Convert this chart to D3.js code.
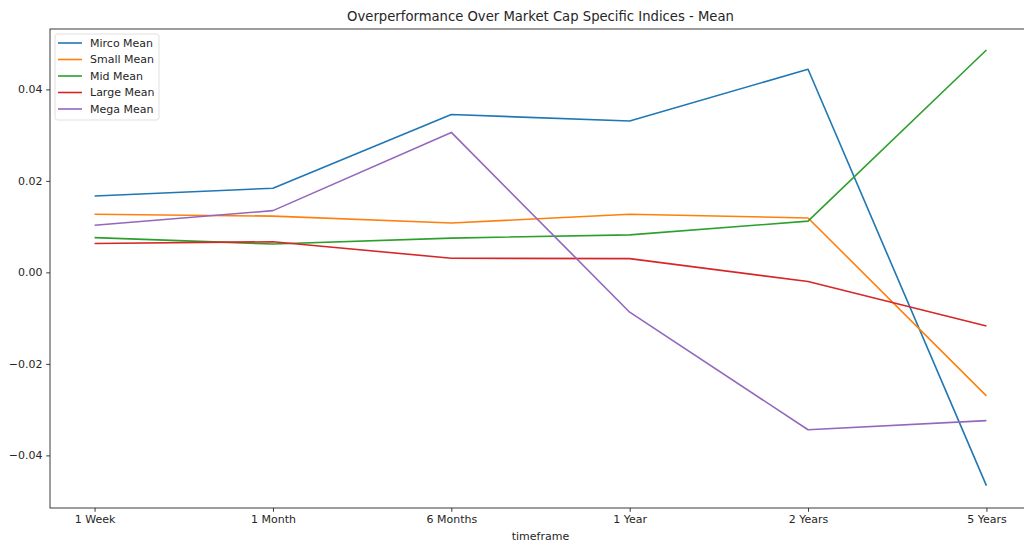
<!DOCTYPE html>
<html>
<head>
<meta charset="utf-8">
<script src="https://cdn.jsdelivr.net/npm/d3@7"></script>
<style>
  body { margin: 0; background: #fff; }
  svg { display: block; font-family: "DejaVu Sans", sans-serif; }
  .tick text { font-size: 11px; fill: #262626; font-family: "DejaVu Sans", sans-serif; }
  .tick line { stroke: #262626; stroke-width: 0.9; }
</style>
</head>
<body>
<div id="chart-area"><svg></svg></div>
<script>
const timeframes = ["1 Week", "1 Month", "6 Months", "1 Year", "2 Years", "5 Years"];
const seriesNames = ["Mirco Mean", "Small Mean", "Mid Mean", "Large Mean", "Mega Mean"];
const colors = ["#1f77b4", "#ff7f0e", "#2ca02c", "#d62728", "#9467bd"];

const mircoMean = [0.0167, 0.0184, 0.0345, 0.0331, 0.0444, -0.0466];
const smallMean = [0.0127, 0.0123, 0.0108, 0.0127, 0.0119, -0.0270];
const midMean = [0.0076, 0.0062, 0.0075, 0.0082, 0.0112, 0.0486];
const largeMean = [0.0063, 0.0067, 0.0031, 0.0030, -0.0020, -0.0117];
const megaMean = [0.0103, 0.0135, 0.0306, -0.0087, -0.0344, -0.0324];

const yTicks = [-0.04, -0.02, 0.0, 0.02, 0.04];

const chartSize = { width: 1024, height: 547 };
const frame = { left: 50, right: 1031, top: 29, bottom: 508 };

const svg = d3.select("#chart-area svg")
  .attr("width", chartSize.width)
  .attr("height", chartSize.height);

const x = d3.scalePoint()
  .domain(timeframes)
  .range([frame.left, frame.right])
  .padding(0.25);

const y = d3.scaleLinear()
  .domain([-0.0515, 0.0532])
  .range([frame.bottom, frame.top]);

// axes
const xAxis = d3.axisBottom(x).tickSize(3.8).tickPadding(3.8);
svg.append("g")
  .attr("transform", `translate(0, ${frame.bottom})`)
  .call(xAxis)
  .attr("font-family", null)
  .attr("font-size", null)
  .call(g => g.select(".domain").remove());

const yAxis = d3.axisLeft(y)
  .tickValues(yTicks)
  .tickFormat(d3.format(".2f"))
  .tickSize(3.8)
  .tickPadding(3.8);
svg.append("g")
  .attr("transform", `translate(${frame.left}, 0)`)
  .call(yAxis)
  .attr("font-family", null)
  .attr("font-size", null)
  .call(g => g.select(".domain").remove());

// lines
const series = [mircoMean, smallMean, midMean, largeMean, megaMean];
const line = d3.line()
  .x((d, i) => x(timeframes[i]))
  .y(d => y(d));

svg.append("g")
  .selectAll("path")
  .data(series)
  .join("path")
  .attr("d", d => line(d))
  .attr("fill", "none")
  .attr("stroke", (d, i) => colors[i])
  .attr("stroke-width", 1.6)
  .attr("stroke-linejoin", "round");

// frame
svg.append("rect")
  .attr("x", frame.left)
  .attr("y", frame.top)
  .attr("width", frame.right - frame.left)
  .attr("height", frame.bottom - frame.top)
  .attr("fill", "none")
  .attr("stroke", "#262626")
  .attr("stroke-width", 0.9);

// title and label
svg.append("text")
  .attr("x", (frame.left + frame.right) / 2)
  .attr("y", 21)
  .attr("text-anchor", "middle")
  .attr("font-size", 13.2)
  .attr("fill", "#262626")
  .text("Overperformance Over Market Cap Specific Indices - Mean");

svg.append("text")
  .attr("x", (frame.left + frame.right) / 2)
  .attr("y", 540)
  .attr("text-anchor", "middle")
  .attr("font-size", 11)
  .attr("fill", "#262626")
  .text("timeframe");

// legend
const legend = svg.append("g").attr("transform", "translate(55, 34)");
legend.append("rect")
  .attr("width", 104)
  .attr("height", 86)
  .attr("rx", 2.5)
  .attr("fill", "#fff")
  .attr("fill-opacity", 0.8)
  .attr("stroke", "#dcdcdc")
  .attr("stroke-width", 0.9);

const items = legend.selectAll("g.item")
  .data(seriesNames)
  .join("g")
  .attr("class", "item")
  .attr("transform", (d, i) => `translate(0, ${9 + i * 16.5})`);

items.append("line")
  .attr("x1", 3)
  .attr("x2", 27)
  .attr("stroke", (d, i) => colors[i])
  .attr("stroke-width", 1.6);

items.append("text")
  .attr("x", 35)
  .attr("dy", "0.35em")
  .attr("font-size", 11)
  .attr("fill", "#262626")
  .text(d => d);
</script>
</body>
</html>
